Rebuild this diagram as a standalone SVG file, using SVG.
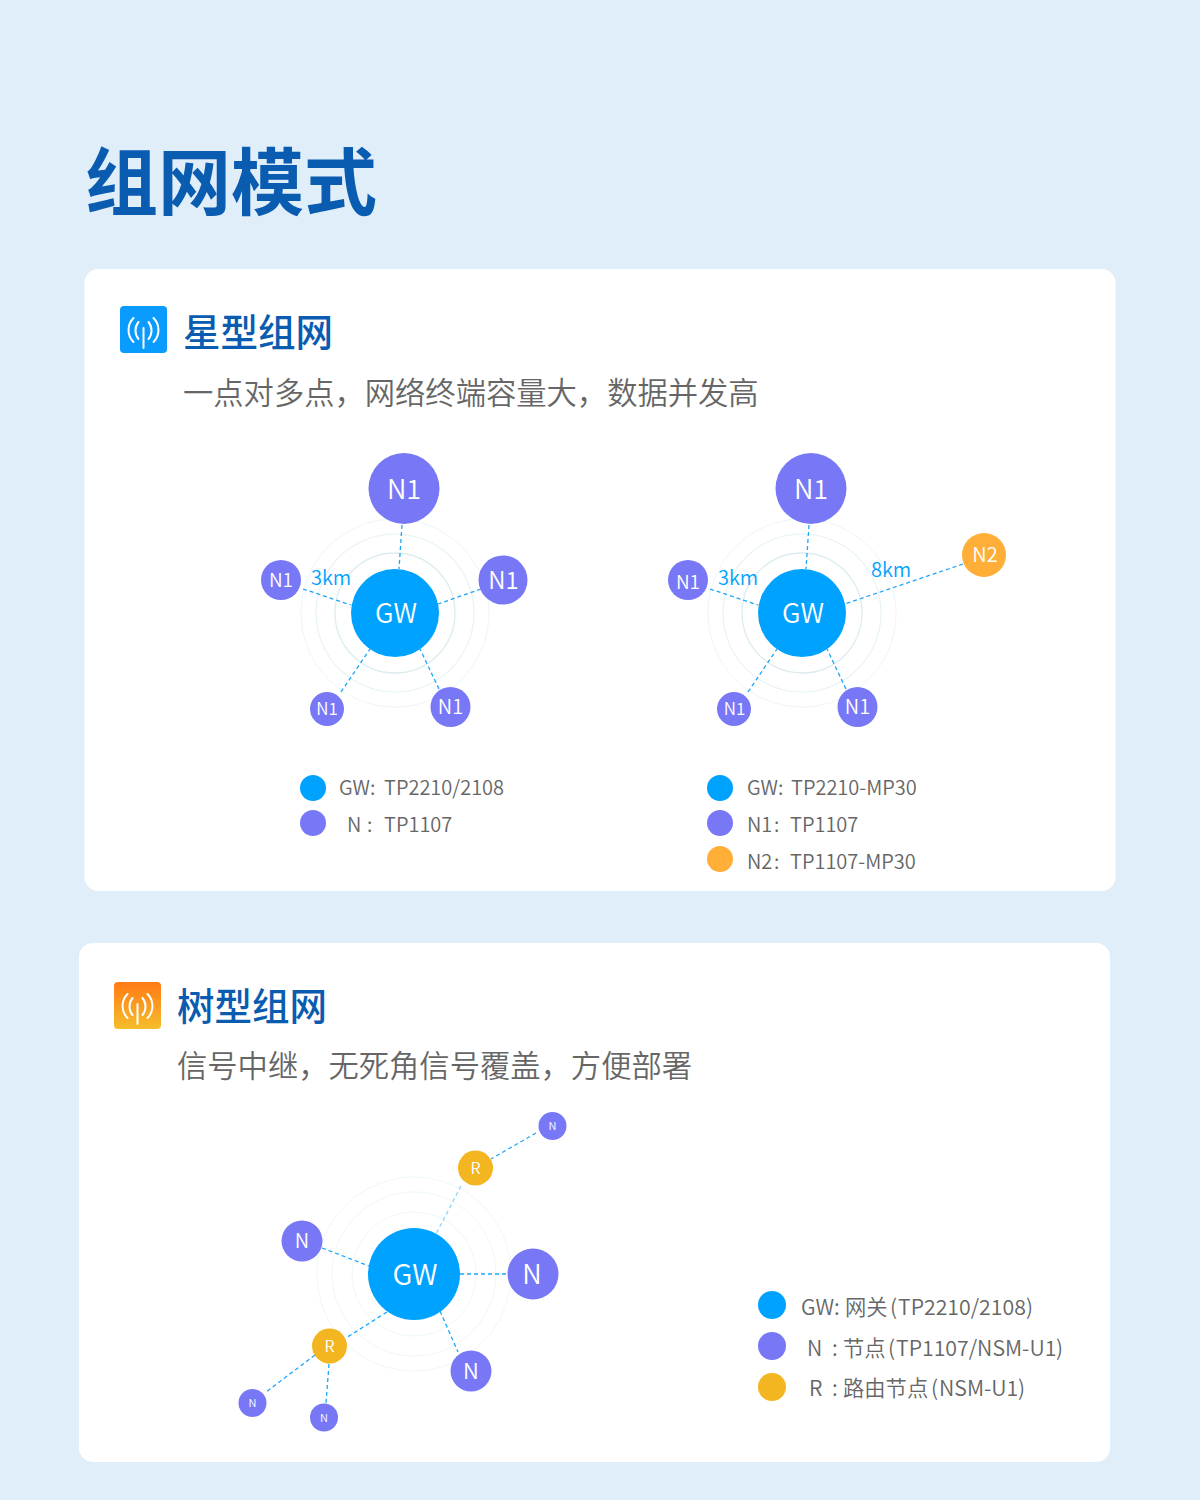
<svg xmlns="http://www.w3.org/2000/svg" width="1200" height="1500" viewBox="0 0 1200 1500">
<style>
text{font-family:"Noto Sans CJK SC","Noto Sans",sans-serif}
.card{fill:#fff}
.title{fill:#0a5cb0;font-size:37.500px;font-weight:500}
.sub{fill:#666;font-size:30.300px;font-weight:350}
.leg{fill:#666;font-size:20px;font-weight:350}
.leg3{fill:#666;font-size:21.300px;font-weight:350}
.n{fill:#fff;text-anchor:middle;font-weight:350}
.km{fill:#00a2ff;font-size:20px;font-weight:350}
.blue{fill:#00a2ff}.pur{fill:#7878f7}.ora{fill:#ffae37}.yel{fill:#f3b620}
.r1{fill:none;stroke:#dcecf0;stroke-width:1.3}.r2{fill:none;stroke:#e6f2f4;stroke-width:1.1}.r3{fill:none;stroke:#eef6f7;stroke-width:1}.r4{fill:none;stroke:#eef8f7;stroke-width:1}
#connectors line{stroke:#1aa7fb;stroke-width:1.300;stroke-dasharray:4 3}
.ic{fill:none;stroke:#fff;stroke-width:2;stroke-linecap:round}
</style>
<defs>
<linearGradient id="og" x1="0" y1="0" x2="0" y2="1"><stop offset="0" stop-color="#ff7a14"/><stop offset="1" stop-color="#f6bd2b"/></linearGradient>
<g id="wave">
<path class="ic" d="M0 -2V18M-5 -8A13.500 13.500 0 0 0 -5 9M5 -8A13.500 13.500 0 0 1 5 9M-10 -12A17 17 0 0 0 -10 12M10 -12A17 17 0 0 1 10 12"/>
</g>
</defs>
<rect width="1200" height="1500" fill="#e0eefa"/>
<text x="85" y="209" font-size="73" font-weight="700" fill="#0a5cb0">组网模式</text>

<rect class="card" x="84.500" y="269" width="1031" height="622" rx="14"/>
<rect class="card" x="79" y="943" width="1031" height="519" rx="14"/>

<g id="star-header">
<rect x="120" y="306" width="47" height="47" rx="4" fill="#0a9bff"/>
<use href="#wave" x="143.500" y="330"/>
<text class="title" x="183" y="346">星型组网</text>
<text class="sub" x="183" y="404">一点对多点，网络终端容量大，数据并发高</text>
</g>
<g id="tree-header">
<rect x="114" y="982" width="47" height="47" rx="4" fill="url(#og)"/>
<use href="#wave" x="137.500" y="1006"/>
<text class="title" x="177" y="1020">树型组网</text>
<text class="sub" x="177" y="1077">信号中继，无死角信号覆盖，方便部署</text>
</g>

<g id="rings">
<circle class="r1" cx="395" cy="613" r="60"/><circle class="r2" cx="395" cy="613" r="79"/><circle class="r3" cx="395" cy="613" r="94"/>
<circle class="r1" cx="802" cy="613" r="60"/><circle class="r2" cx="802" cy="613" r="79"/><circle class="r3" cx="802" cy="613" r="94"/>
<circle class="r4" cx="414" cy="1274" r="62"/><circle class="r4" cx="414" cy="1274" r="82"/><circle class="r4" cx="414" cy="1274" r="97"/>
</g>

<g id="connectors">
<line x1="402" y1="525" x2="399" y2="569"/>
<line x1="303" y1="589" x2="351" y2="605"/>
<line x1="481" y1="589" x2="438" y2="604"/>
<line x1="341" y1="692" x2="370" y2="649"/>
<line x1="439" y1="689" x2="420" y2="649"/>
<line x1="809" y1="525" x2="806" y2="569"/>
<line x1="710" y1="589" x2="758" y2="605"/>
<line x1="963" y1="564" x2="845" y2="604"/>
<line x1="748" y1="692" x2="777" y2="649"/>
<line x1="846" y1="689" x2="827" y2="649"/>
<line x1="461" y1="1186" x2="436" y2="1234" style="stroke:#8fd4fb"/>
<line x1="536" y1="1133" x2="491" y2="1159"/>
<line x1="322" y1="1248" x2="369" y2="1266"/>
<line x1="460" y1="1274" x2="507" y2="1274"/>
<line x1="387" y1="1312" x2="346" y2="1338"/>
<line x1="440" y1="1311" x2="458" y2="1352"/>
<line x1="315" y1="1355" x2="266" y2="1392"/>
<line x1="329" y1="1364" x2="326" y2="1403"/>
</g>

<g id="star1-gw"><circle class="blue" cx="395" cy="613" r="44"/><text class="n" x="396" y="623" font-size="27">GW</text></g>
<g id="star1-n1"><circle class="pur" cx="404" cy="488.500" r="35.500"/><text class="n" x="404" y="499" font-size="27">N1</text></g>
<g id="star1-n2"><circle class="pur" cx="281" cy="580" r="20"/><text class="n" x="281" y="587" font-size="19">N1</text></g>
<g id="star1-n3"><circle class="pur" cx="503" cy="580" r="24.500"/><text class="n" x="503.500" y="589" font-size="24">N1</text></g>
<g id="star1-n4"><circle class="pur" cx="327" cy="709" r="17"/><text class="n" x="327" y="715" font-size="17">N1</text></g>
<g id="star1-n5"><circle class="pur" cx="450.500" cy="707" r="20"/><text class="n" x="450.500" y="714" font-size="20">N1</text></g>
<text class="km" x="311" y="585">3km</text>

<g id="star2-gw"><circle class="blue" cx="802" cy="613" r="44"/><text class="n" x="803" y="623" font-size="27">GW</text></g>
<g id="star2-n1"><circle class="pur" cx="811" cy="488.500" r="35.500"/><text class="n" x="811" y="499" font-size="27">N1</text></g>
<g id="star2-n2"><circle class="pur" cx="688" cy="580" r="20"/><text class="n" x="688" y="589" font-size="19">N1</text></g>
<g id="star2-n3"><circle class="ora" cx="984" cy="555" r="22"/><text class="n" x="985" y="562" font-size="20">N2</text></g>
<g id="star2-n4"><circle class="pur" cx="734" cy="709" r="17"/><text class="n" x="734.500" y="715" font-size="17">N1</text></g>
<g id="star2-n5"><circle class="pur" cx="857.500" cy="707" r="20"/><text class="n" x="857.500" y="714" font-size="20">N1</text></g>
<text class="km" x="718" y="585">3km</text>
<text class="km" x="871" y="577">8km</text>

<g id="legend1">
<circle class="blue" cx="313" cy="788" r="13"/><text class="leg" x="339" y="795">GW:<tspan x="384">TP2210/2108</tspan></text>
<circle class="pur" cx="313" cy="823" r="13"/><text class="leg" x="347" y="832">N<tspan x="367">:</tspan><tspan x="384">TP1107</tspan></text>
</g>
<g id="legend2">
<circle class="blue" cx="720" cy="788" r="13"/><text class="leg" x="747" y="795">GW:<tspan x="791">TP2210-MP30</tspan></text>
<circle class="pur" cx="720" cy="823" r="13"/><text class="leg" x="747" y="832">N1<tspan x="774">:</tspan><tspan x="790">TP1107</tspan></text>
<circle class="ora" cx="720" cy="859" r="13"/><text class="leg" x="747" y="869">N2<tspan x="774">:</tspan><tspan x="790">TP1107-MP30</tspan></text>
</g>

<g id="tree-gw"><circle class="blue" cx="414" cy="1274" r="46"/><text class="n" x="415" y="1285" font-size="29">GW</text></g>
<g id="tree-n1"><circle class="pur" cx="302" cy="1241" r="20.500"/><text class="n" x="302" y="1248" font-size="20">N</text></g>
<g id="tree-n2"><circle class="pur" cx="533" cy="1274" r="25.500"/><text class="n" x="532" y="1284" font-size="27">N</text></g>
<g id="tree-n3"><circle class="pur" cx="471" cy="1371" r="20.500"/><text class="n" x="471" y="1379" font-size="22">N</text></g>
<g id="tree-r1"><circle class="yel" cx="475.500" cy="1168" r="17.500"/><text class="n" x="475.500" y="1174" font-size="16">R</text></g>
<g id="tree-r2"><circle class="yel" cx="329.500" cy="1346" r="17.500"/><text class="n" x="329.500" y="1352" font-size="16">R</text></g>
<g id="tree-n4"><circle class="pur" cx="552.500" cy="1126" r="14"/><text class="n" x="552.500" y="1130" font-size="11">N</text></g>
<g id="tree-n5"><circle class="pur" cx="252.500" cy="1403" r="14"/><text class="n" x="252.500" y="1407" font-size="11">N</text></g>
<g id="tree-n6"><circle class="pur" cx="324" cy="1417.500" r="14"/><text class="n" x="324" y="1421.500" font-size="11">N</text></g>

<g id="legend3">
<circle class="blue" cx="772" cy="1305" r="14"/><text class="leg3" x="801" y="1315">GW:<tspan x="845">网关</tspan><tspan x="890">(</tspan><tspan x="898">TP2210/2108</tspan><tspan x="1026">)</tspan></text>
<circle class="pur" cx="772" cy="1346" r="14"/><text class="leg3" x="807" y="1356">N<tspan x="832">:</tspan><tspan x="843">节点</tspan><tspan x="888">(</tspan><tspan x="896">TP1107/NSM-U1</tspan><tspan x="1056">)</tspan></text>
<circle class="yel" cx="772" cy="1387" r="14"/><text class="leg3" x="809" y="1396">R<tspan x="832">:</tspan><tspan x="843">路由节点</tspan><tspan x="931">(</tspan><tspan x="939">NSM-U1</tspan><tspan x="1018">)</tspan></text>
</g>
</svg>
